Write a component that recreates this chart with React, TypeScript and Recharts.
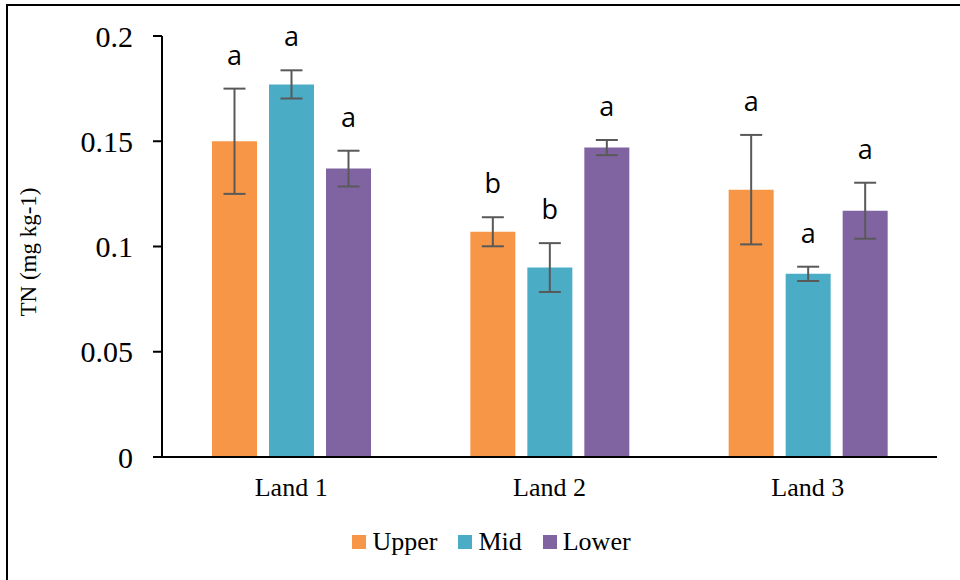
import { BarChart, Bar, XAxis, YAxis, ErrorBar, LabelList, Legend } from "recharts";

const lands = ["Land 1", "Land 2", "Land 3"];

const upper = [0.150, 0.107, 0.127];
const upperErr = [0.025, 0.0069, 0.026];
const upperSig = ["a", "b", "a"];

const mid = [0.177, 0.090, 0.087];
const midErr = [0.0067, 0.0116, 0.0034];
const midSig = ["a", "b", "a"];

const lower = [0.137, 0.147, 0.117];
const lowerErr = [0.0085, 0.0036, 0.0133];
const lowerSig = ["a", "a", "a"];

const yTicks = [0, 0.05, 0.1, 0.15, 0.2];

const series = [
  { key: "upper", name: "Upper", color: "#F79646", vals: upper, errs: upperErr },
  { key: "mid", name: "Mid", color: "#4BACC6", vals: mid, errs: midErr },
  { key: "lower", name: "Lower", color: "#8064A2", vals: lower, errs: lowerErr },
];

const data = lands.map((name, i) => ({
  name,
  upper: upper[i],
  upperErr: upperErr[i],
  upperSig: upperSig[i],
  mid: mid[i],
  midErr: midErr[i],
  midSig: midSig[i],
  lower: lower[i],
  lowerErr: lowerErr[i],
  lowerSig: lowerSig[i],
}));

const serif = "Liberation Serif";

// letter sits a little above the top of the error bar
const sigLabel = (vals: number[], errs: number[]) => (props: any) => {
  const { x, y, width, height, value, index } = props;
  const v = vals[index];
  const perUnit = Number(height) / v;
  const errTop = Number(y) - errs[index] * perUnit;
  return (
    <text
      x={Number(x) + Number(width) / 2}
      y={errTop - 24}
      textAnchor="middle"
      style={{ fontFamily: "Open Sans", fontSize: 27 }}
      fill="#000"
    >
      {value}
    </text>
  );
};

const LegendContent = () => (
  <div style={{ display: "flex", justifyContent: "center", alignItems: "center", paddingLeft: 44 }}>
    {series.map((s) => (
      <div key={s.key} style={{ display: "flex", alignItems: "center", marginRight: 21 }}>
        <span style={{ width: 14, height: 14, background: s.color, display: "inline-block", marginRight: 6 }} />
        <span style={{ fontFamily: serif, fontSize: 26, color: "#000", lineHeight: "30px" }}>{s.name}</span>
      </div>
    ))}
  </div>
);

export default function App() {
  return (
    <div
      style={{
        position: "fixed",
        left: 0,
        top: 0,
        width: 960,
        height: 580,
        overflow: "hidden",
        background: "#fff",
        fontFamily: serif,
      }}
    >
      <div style={{ position: "absolute", left: 6, top: 4, width: 1000, height: 700, border: "2px solid #000" }} />
      <div style={{ position: "absolute", left: 0, top: 0 }}>
        <BarChart
          width={960}
          height={580}
          data={data}
          margin={{ top: 36, right: 23, left: 0, bottom: 93 }}
          barSize={45}
          barGap={12}
          style={{ fontFamily: serif }}
        >
          <XAxis
            dataKey="name"
            height={30}
            tickLine={false}
            tickSize={0}
            tickMargin={21}
            axisLine={{ stroke: "#000", strokeWidth: 2 }}
            tick={{ fontSize: 26, fill: "#000", style: { fontFamily: serif } }}
          />
          <YAxis
            width={162}
            domain={[0, 0.2]}
            ticks={yTicks}
            interval={0}
            tickSize={9}
            tickMargin={20}
            axisLine={{ stroke: "#000", strokeWidth: 2 }}
            tickLine={{ stroke: "#000", strokeWidth: 2 }}
            tick={{ fontSize: 30, fill: "#000", style: { fontFamily: serif } }}
            label={() => (
              <text
                x={28}
                y={252}
                transform="rotate(-90, 28, 252)"
                textAnchor="middle"
                dominantBaseline="central"
                style={{ fontFamily: serif, fontSize: 23 }}
                fill="#000"
              >
                TN (mg kg-1)
              </text>
            )}
          />
          <Legend
            verticalAlign="middle"
            layout="horizontal"
            content={<LegendContent />}
            wrapperStyle={{ top: 527, left: 0, width: 960, bottom: "auto" }}
          />
          {series.map((s) => (
            <Bar key={s.key} dataKey={s.key} name={s.name} fill={s.color} isAnimationActive={false}>
              <ErrorBar dataKey={s.key + "Err"} width={11} stroke="#595959" strokeWidth={2} />
              <LabelList dataKey={s.key + "Sig"} content={sigLabel(s.vals, s.errs)} />
            </Bar>
          ))}
        </BarChart>
      </div>
    </div>
  );
}
